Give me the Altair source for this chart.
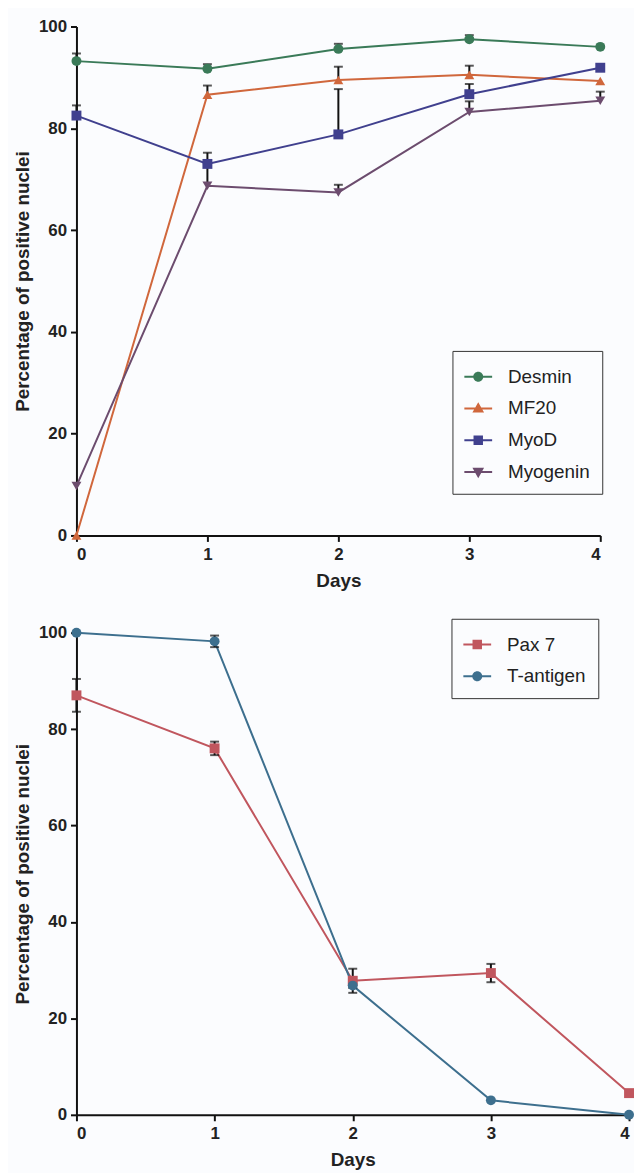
import altair as alt
import pandas as pd

# ---------------- data ----------------
days = [0, 1, 2, 3, 4]

top_names = ["Desmin", "MF20", "MyoD", "Myogenin"]
desmin = [93.2, 91.7, 95.6, 97.5, 96.0]
desmin_err = [1.5, 0.9, 1.0, 0.8, 0.0]
mf20 = [0.0, 86.6, 89.5, 90.5, 89.3]
mf20_err = [0.0, 1.8, 2.6, 1.8, 0.0]
myod = [82.5, 73.0, 78.8, 86.7, 91.9]
myod_err = [2.0, 2.2, 8.9, 2.0, 0.0]
myogenin = [9.7, 68.7, 67.4, 83.2, 85.4]
myogenin_err = [0.0, 4.3, 1.5, 2.1, 1.8]

bottom_names = ["Pax 7", "T-antigen"]
pax7 = [87.0, 76.0, 27.8, 29.4, 4.5]
pax7_err = [3.4, 1.4, 2.5, 1.9, 0.0]
tag = [100.0, 98.2, 26.8, 3.0, 0.0]
tag_err = [0.0, 1.2, 0.5, 0.0, 0.0]

top_colors = ["#3a7a58", "#d0673c", "#40408e", "#6c4c6e"]
bottom_colors = ["#c0565e", "#3d6f8e"]
top_shapes = ["circle", "triangle-up", "square", "triangle-down"]
bottom_shapes = ["square", "circle"]

# legend symbols: a thin bar (the line) plus the marker, all filled
BAR = "M-1,-0.075H1V0.075H-1Z"
LEG = {
    "circle": BAR + "M0.36,0A0.36,0.36,0,1,1,-0.36,0A0.36,0.36,0,1,1,0.36,0Z",
    "triangle-up": BAR + "M0,-0.45L0.42,0.3L-0.42,0.3Z",
    "square": BAR + "M-0.34,-0.34H0.34V0.34H-0.34Z",
    "triangle-down": BAR + "M0,0.45L-0.42,-0.3L0.42,-0.3Z",
}


def long_df(names, values, errs, both):
    rows = []
    for n, vals, es in zip(names, values, errs):
        for d, v, e in zip(days, vals, es):
            lo = v - e if both else v
            rows.append({"Series": n, "Day": d, "Value": v, "Err": e, "Lo": lo, "Hi": v + e})
    return pd.DataFrame(rows)


def panel(df, names, colors, shapes, width, height, lx, ly, both):
    xs = alt.Scale(domain=[0, 4], nice=False)
    ys = alt.Scale(domain=[0, 100], nice=False)
    xax = alt.Axis(values=days, format="d", title="Days")
    yax = alt.Axis(values=[0, 20, 40, 60, 80, 100], title="Percentage of positive nuclei")
    X = alt.X("Day:Q", scale=xs, axis=xax)
    Yv = alt.Y("Value:Q", scale=ys, axis=yax)

    layers = []
    for n, c in zip(names, colors):
        layers.append(alt.Chart(df).transform_filter(alt.datum.Series == n)
                      .mark_line(strokeWidth=2, color=c).encode(x=X, y=Yv))
    err = alt.Chart(df).transform_filter("datum.Err > 0")
    layers.append(err.mark_rule(color="#111", strokeWidth=2).encode(
        x=X, y=alt.Y("Lo:Q", scale=ys, axis=yax), y2="Hi:Q"))
    layers.append(err.mark_tick(orient="horizontal", size=9, thickness=2, color="#111").encode(
        x=X, y=alt.Y("Hi:Q", scale=ys, axis=yax)))
    if both:
        layers.append(err.mark_tick(orient="horizontal", size=9, thickness=2, color="#111").encode(
            x=X, y=alt.Y("Lo:Q", scale=ys, axis=yax)))
    for n, c, s in zip(names, colors, shapes):
        layers.append(alt.Chart(df).transform_filter(alt.datum.Series == n).mark_point(
            filled=True, size=100, opacity=1, shape=s, color=c).encode(x=X, y=Yv))

    leg = alt.Legend(title=None, orient="none", legendX=lx, legendY=ly,
                     strokeColor="#333", padding=12, labelFontSize=19,
                     labelFont="Liberation Sans", labelColor="#222",
                     symbolSize=784, symbolStrokeWidth=0, labelOffset=16,
                     rowPadding=8, fillColor="#fbfcfe", symbolOpacity=1)
    legdf = pd.DataFrame({"Series": names})
    legend_layer = alt.Chart(legdf).transform_filter("false").mark_point(filled=True).encode(
        color=alt.Color("Series:N", scale=alt.Scale(domain=names, range=colors), legend=leg),
        shape=alt.Shape("Series:N", scale=alt.Scale(domain=names, range=[LEG[s] for s in shapes]), legend=leg),
    )
    layers.append(legend_layer)
    return alt.layer(*layers).properties(width=width, height=height)


top_df = long_df(top_names, [desmin, mf20, myod, myogenin],
                 [desmin_err, mf20_err, myod_err, myogenin_err], both=False)
bot_df = long_df(bottom_names, [pax7, tag], [pax7_err, tag_err], both=True)

top = panel(top_df, top_names, top_colors, top_shapes, 528, 513, 379, 327, False)
bottom = panel(bot_df, bottom_names, bottom_colors, bottom_shapes, 557, 486, 378, -14, True)

chart = alt.vconcat(top, bottom, spacing=28).resolve_scale(
    color="independent", shape="independent"
).resolve_legend(
    color="independent", shape="independent"
).properties(
    background="#fbfcfe",
    padding={"top": 5, "left": 5, "right": 0, "bottom": 0},
).configure_view(stroke=None).configure_axis(
    domainColor="#111", domainWidth=2, tickColor="#111", tickWidth=2, tickSize=6,
    labelFont="Liberation Sans", labelFontSize=17, labelFontWeight="bold", labelColor="#222",
    titleFont="Liberation Sans", titleFontSize=19, titleFontWeight="bold", titleColor="#222",
    grid=False,
).configure_axisX(labelPadding=5, titlePadding=9).configure_axisY(labelPadding=4, titlePadding=6)

chart.save("out.html", embed_options={"renderer": "svg", "actions": False})
